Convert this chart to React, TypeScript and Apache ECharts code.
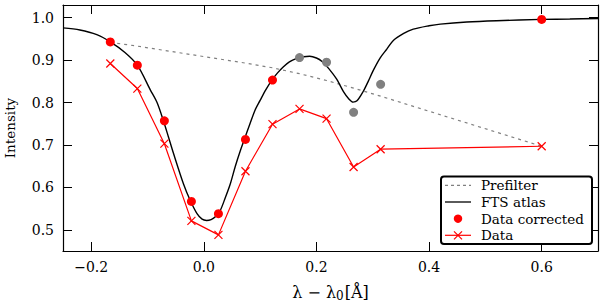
import React, { useEffect, useRef } from 'react';
import * as echarts from 'echarts';

// Wavelength offsets of the measured points
const dataX = [-0.166, -0.118, -0.070, -0.022, 0.026, 0.074, 0.122, 0.170, 0.218, 0.266, 0.314, 0.600];
// Corrected intensities
const dataCorrected = [0.943, 0.888, 0.757, 0.567, 0.538, 0.713, 0.853, 0.906, 0.895, 0.777, 0.843, 0.996];
// Indices of corrected points drawn in grey
const excludedIdx = [7, 8, 9, 10];
// Raw data intensities
const dataRaw = [0.892, 0.833, 0.703, 0.521, 0.488, 0.638, 0.749, 0.785, 0.762, 0.648, 0.690, 0.697];
// Prefilter transmission at the measured positions
const prefilter = [0.942, 0.933, 0.923, 0.913, 0.903, 0.893, 0.882, 0.868, 0.852, 0.834, 0.815, 0.697];
// FTS atlas profile
const atlasX = [-0.25, -0.22, -0.19, -0.166, -0.14, -0.118, -0.095, -0.083, -0.0717, -0.063, -0.054, -0.036, -0.024, -0.012, -0.003, 0.005, 0.013, 0.02, 0.029, 0.038, 0.047, 0.056, 0.065, 0.072, 0.082, 0.091, 0.1, 0.11, 0.121, 0.131, 0.141, 0.152, 0.165, 0.177, 0.188, 0.2, 0.21, 0.222, 0.236, 0.248, 0.258, 0.265, 0.272, 0.283, 0.292, 0.301, 0.313, 0.325, 0.337, 0.355, 0.372, 0.4, 0.42, 0.467, 0.52, 0.6, 0.65, 0.7];
const atlasY = [0.976, 0.971, 0.960, 0.943, 0.918, 0.888, 0.830, 0.800, 0.757, 0.720, 0.681, 0.608, 0.569, 0.538, 0.525, 0.522, 0.524, 0.530, 0.545, 0.575, 0.608, 0.650, 0.687, 0.713, 0.750, 0.782, 0.805, 0.830, 0.853, 0.870, 0.884, 0.896, 0.904, 0.908, 0.909, 0.905, 0.897, 0.880, 0.855, 0.826, 0.808, 0.801, 0.804, 0.826, 0.850, 0.876, 0.905, 0.926, 0.947, 0.963, 0.973, 0.981, 0.985, 0.990, 0.993, 0.996, 0.997, 0.998];

const xTicks = [-0.2, 0.0, 0.2, 0.4, 0.6];
const yTicks = [0.5, 0.6, 0.7, 0.8, 0.9, 1.0];
const legendLabels = ['Prefilter', 'FTS atlas', 'Data corrected', 'Data'];

const FONT = "'DejaVu Serif', 'Liberation Serif', serif";
const RED = '#ff0000';
const GREY = '#808080';

const fmtX = (v: number) => (v < -1e-9 ? '\u2212' : '') + Math.abs(v).toFixed(1);

export default function App() {
  const ref = useRef<HTMLDivElement>(null);
  useEffect(() => {
    if (!ref.current) return;
    const chart = echarts.init(ref.current, null, { renderer: 'svg' });

    const tickStyle = { show: true, inside: true, length: 9, lineStyle: { color: '#000', width: 1 } };
    const axisLine = { show: true, onZero: false, lineStyle: { color: '#000', width: 1.2 } };

    const mkX = (pos: 'bottom' | 'top', labels: boolean) => ({
      type: 'value', position: pos, min: -0.25, max: 0.7,
      axisLine,
      axisTick: { ...tickStyle, customValues: xTicks },
      axisLabel: {
        show: labels, customValues: xTicks, formatter: fmtX, margin: 9,
        fontFamily: FONT, fontSize: 14, color: '#000',
      },
      splitLine: { show: false },
    });
    const mkY = (pos: 'left' | 'right', labels: boolean) => ({
      type: 'value', position: pos, min: 0.45, max: 1.03,
      axisLine,
      axisTick: { ...tickStyle, customValues: yTicks },
      axisLabel: {
        show: labels, customValues: yTicks, formatter: (v: number) => v.toFixed(1), margin: 9,
        fontFamily: FONT, fontSize: 14, color: '#000',
      },
      splitLine: { show: false },
    });

    const xMain: any = mkX('bottom', true);
    xMain.name = '{a|\u03bb \u2212 \u03bb}{s|0}{a|[\u00c5]}';
    xMain.nameLocation = 'middle';
    xMain.nameGap = 32;
    xMain.nameTextStyle = {
      rich: {
        a: { fontFamily: FONT, fontSize: 16, color: '#000' },
        s: { fontFamily: FONT, fontSize: 12, color: '#000', padding: [7, 1, 0, 0] },
      },
    };
    const yMain: any = mkY('left', true);
    yMain.name = 'Intensity';
    yMain.nameLocation = 'middle';
    yMain.nameGap = 46;
    yMain.nameTextStyle = { fontFamily: FONT, fontSize: 13.5, color: '#000' };

    const rowY = [185.3, 202, 218.7, 235.3];
    const lx0 = 445, lx1 = 471, lxc = 458, tx = 481;
    const graphic: any[] = [
      { type: 'rect', z: 100, shape: { x: 441, y: 176.5, width: 151, height: 67.5, r: 3 }, style: { fill: '#fff', stroke: '#000', lineWidth: 2 } },
      { type: 'line', z: 101, shape: { x1: lx0, y1: rowY[0], x2: lx1, y2: rowY[0] }, style: { stroke: GREY, lineWidth: 1.2, lineDash: [3, 3] } },
      { type: 'line', z: 101, shape: { x1: lx0, y1: rowY[1], x2: lx1, y2: rowY[1] }, style: { stroke: '#000', lineWidth: 1.3 } },
      { type: 'circle', z: 101, shape: { cx: lxc, cy: rowY[2], r: 4.2 }, style: { fill: RED } },
      { type: 'line', z: 101, shape: { x1: lx0, y1: rowY[3], x2: lx1, y2: rowY[3] }, style: { stroke: RED, lineWidth: 1.2 } },
      { type: 'line', z: 101, shape: { x1: lxc - 4, y1: rowY[3] - 4, x2: lxc + 4, y2: rowY[3] + 4 }, style: { stroke: RED, lineWidth: 1.2 } },
      { type: 'line', z: 101, shape: { x1: lxc - 4, y1: rowY[3] + 4, x2: lxc + 4, y2: rowY[3] - 4 }, style: { stroke: RED, lineWidth: 1.2 } },
      ...legendLabels.map((t, i) => ({
        type: 'text', z: 101, x: tx, y: rowY[i],
        style: { text: t, fontFamily: FONT, fontSize: 13.5, fill: '#000', verticalAlign: 'middle', align: 'left' },
      })),
    ];

    chart.setOption({
      animation: false,
      grid: { left: 63, right: 2, top: 5, bottom: 53, containLabel: false, outerBoundsMode: 'none' },
      xAxis: [xMain, mkX('top', false)],
      yAxis: [yMain, mkY('right', false)],
      series: [
        {
          name: 'Prefilter', type: 'line', symbol: 'none', z: 2,
          data: dataX.map((x, i) => [x, prefilter[i]]),
          lineStyle: { color: GREY, width: 1.2, type: [3, 4] },
        },
        {
          name: 'FTS atlas', type: 'line', symbol: 'none', smooth: 0.3, z: 3,
          data: atlasX.map((x, i) => [x, atlasY[i]]),
          lineStyle: { color: '#000', width: 1.4 },
        },
        {
          name: 'Data', type: 'line', z: 4,
          symbol: 'path://M0,0L10,10M10,0L0,10', symbolSize: 8, showSymbol: true,
          data: dataX.map((x, i) => [x, dataRaw[i]]),
          lineStyle: { color: RED, width: 1.2 },
          itemStyle: { color: RED, borderColor: RED, borderWidth: 1.2 },
        },
        {
          name: 'Data corrected', type: 'scatter', symbol: 'circle', symbolSize: 9, z: 5,
          data: dataX.map((x, i) => [x, dataCorrected[i]]),
          itemStyle: {
            opacity: 1,
            color: (p: any) => (excludedIdx.includes(p.dataIndex) ? GREY : RED),
          },
        },
      ],
      graphic,
    });
    return () => chart.dispose();
  }, []);
  return <div ref={ref} style={{ position: 'fixed', left: 0, top: 0, width: 600, height: 304, background: '#fff' }} />;
}
